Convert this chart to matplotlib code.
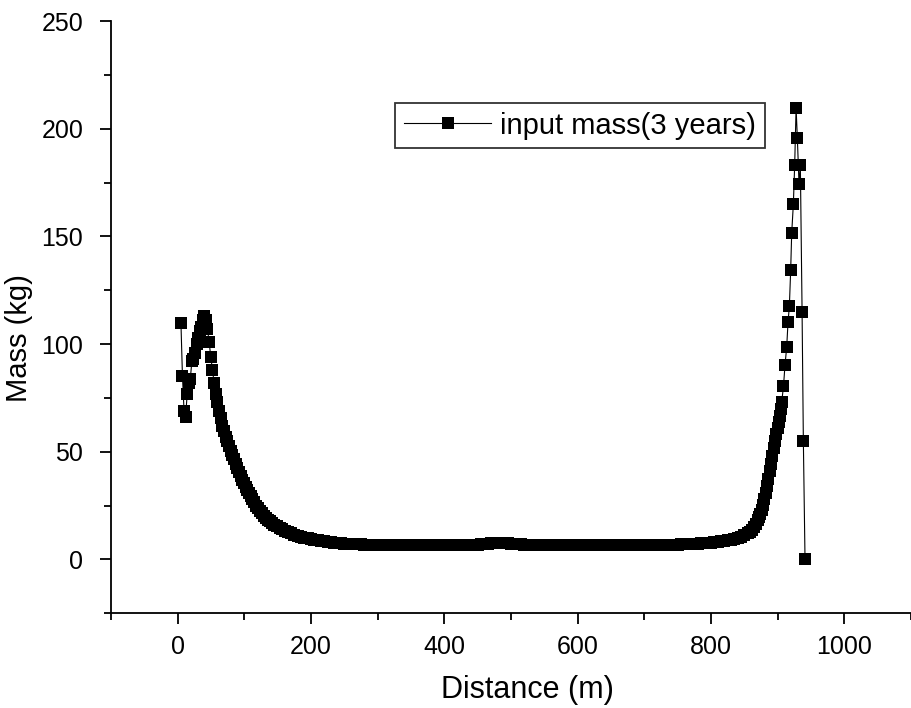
import matplotlib
matplotlib.use("Agg")
import matplotlib.pyplot as plt
from matplotlib.ticker import MultipleLocator

plt.rcParams["font.family"] = ["Liberation Sans", "DejaVu Sans"]

# distance (m) and mass (kg)
# first bump, near x = 0
dist_start = [4.7, 7.0, 9.4, 11.7, 14.1, 16.4, 18.8, 21.1, 23.5, 25.8, 28.2,
              30.5, 32.9, 35.2, 37.6, 39.9]
mass_start = [110.0, 85.0, 69.0, 66.0, 77.0, 82.0, 84.0, 92.0, 93.0, 96.0,
              100.0, 103.0, 106.0, 108.0, 111.0, 113.0]

# decay after the first bump
dist_decay = [42, 44.5, 47, 49.5, 52, 54.5, 57, 59.5, 62, 64.5, 67, 69.5, 72,
              74.5, 77, 79.5, 82, 84.5, 87, 89.5, 92, 94.5, 97, 99.5, 102,
              104.5, 107, 109.5, 112, 115, 118, 121, 124, 127, 130, 133, 136,
              139, 142, 145, 149, 153, 157, 161, 165, 170, 175, 180, 185]
mass_decay = [111, 107, 101, 94, 88, 82, 77, 73, 69, 65.5, 62, 59.5, 57, 55,
              52.5, 50.5, 48.5, 46.5, 44.5, 42.5, 40.5, 38.7, 37, 35.3, 33.7,
              32.1, 30.6, 29.2, 27.9, 26.4, 25, 23.7, 22.5, 21.3, 20.3, 19.3,
              18.4, 17.6, 16.8, 16.1, 15.3, 14.6, 13.9, 13.3, 12.7, 12.0,
              11.4, 10.9, 10.5]

# long flat stretch, 190 m to 800 m
dist_flat = [190, 195, 200, 205, 210, 215, 220, 225, 230, 235, 240, 245, 250,
             255, 260, 265, 270, 275, 280, 285, 290, 295, 300, 305, 310, 315,
             320, 325, 330, 335, 340, 345, 350, 355, 360, 365, 370, 375, 380,
             385, 390, 395, 400, 405, 410, 415, 420, 425, 430, 435, 440, 445,
             450, 455, 460, 465, 470, 475, 480, 485, 490, 495, 500, 505, 510,
             515, 520, 525, 530, 535, 540, 545, 550, 555, 560, 565, 570, 575,
             580, 585, 590, 595, 600, 605, 610, 615, 620, 625, 630, 635, 640,
             645, 650, 655, 660, 665, 670, 675, 680, 685, 690, 695, 700, 705,
             710, 715, 720, 725, 730, 735, 740, 745, 750, 755, 760, 765, 770,
             775, 780, 785, 790, 795, 800]
mass_flat = [10.1, 9.7, 9.4, 9.1, 8.9, 8.6, 8.4, 8.2, 8.0, 7.8, 7.6, 7.5, 7.3,
             7.2, 7.1, 7.0, 6.9, 6.9, 6.8, 6.8, 6.7, 6.7, 6.7, 6.6, 6.6, 6.6,
             6.6, 6.6, 6.6, 6.6, 6.6, 6.6, 6.6, 6.6, 6.6, 6.6, 6.6, 6.6, 6.6,
             6.6, 6.6, 6.6, 6.6, 6.6, 6.6, 6.6, 6.7, 6.7, 6.7, 6.7, 6.8, 6.8,
             6.8, 6.9, 7.0, 7.2, 7.4, 7.6, 7.8, 7.7, 7.5, 7.4, 7.3, 7.1, 7.0,
             6.9, 6.8, 6.8, 6.7, 6.7, 6.7, 6.7, 6.7, 6.7, 6.7, 6.7, 6.7, 6.7,
             6.7, 6.7, 6.7, 6.7, 6.7, 6.7, 6.7, 6.7, 6.7, 6.7, 6.7, 6.7, 6.7,
             6.7, 6.7, 6.7, 6.7, 6.7, 6.7, 6.7, 6.7, 6.7, 6.7, 6.7, 6.7, 6.8,
             6.8, 6.8, 6.8, 6.8, 6.8, 6.8, 6.8, 6.8, 6.8, 6.9, 7.0, 7.0, 7.1,
             7.2, 7.3, 7.4, 7.5, 7.6, 7.8]

# rise and final spike near the end
dist_end = [805, 810, 815, 820, 825, 830, 835, 840, 845, 850, 855, 858, 861,
            864, 867, 870, 872, 874, 876, 878, 880, 882, 884, 886, 888, 890,
            892, 894, 896, 898, 900, 901.5, 903, 904.5, 906, 908.7, 911.0,
            913.5, 915.5, 917.5, 919.5, 921.0, 923.5, 925.5, 927.6, 929.5,
            932.0, 934.0, 936.6, 938.5, 941.0]
mass_end = [8.0, 8.2, 8.4, 8.6, 8.9, 9.2, 9.6, 10.0, 10.6, 11.3, 12.2, 12.9,
            13.8, 15.0, 16.4, 18.2, 19.6, 21.2, 23.0, 25.3, 28.0, 31.0, 34.0,
            37.5, 41.0, 44.5, 48.0, 51.5, 55.0, 58.0, 61.0, 63.7, 66.5, 69.7,
            73.0, 80.4, 90.4, 98.5, 110.2, 117.5, 134.5, 151.5, 165.0, 183.3,
            209.8, 195.6, 174.4, 183.0, 114.7, 55.2, 0.0]

distance = dist_start + dist_decay + dist_flat + dist_end
mass = mass_start + mass_decay + mass_flat + mass_end

fig = plt.figure(figsize=(9.11, 7.08), dpi=100)
ax = fig.add_axes([0.122, 0.134, 0.878, 0.836])

ax.plot(distance, mass, color="black", linewidth=0.8, marker="s",
        markersize=8.3, markeredgewidth=0, label="input mass(3 years)")

ax.set_xlim(-100, 1100)
ax.set_ylim(-25, 250)
ax.xaxis.set_major_locator(MultipleLocator(200))
ax.xaxis.set_minor_locator(MultipleLocator(100))
ax.yaxis.set_major_locator(MultipleLocator(50))
ax.yaxis.set_minor_locator(MultipleLocator(25))

ax.spines["top"].set_visible(False)
ax.spines["right"].set_visible(False)
for side in ["left", "bottom"]:
    ax.spines[side].set_linewidth(1.3)

ax.tick_params(which="major", direction="out", length=8, width=1.3,
               labelsize=18)
ax.tick_params(axis="x", which="major", pad=8)
ax.tick_params(axis="y", which="major", pad=12)
ax.tick_params(which="minor", direction="out", length=5, width=1.3)

ax.set_xlabel("Distance (m)", fontsize=22)
ax.set_ylabel("Mass (kg)", fontsize=21)
ax.xaxis.set_label_coords(0.52, -0.105)
ax.yaxis.set_label_coords(-0.098, 0.465)

leg = ax.legend(loc="upper left", bbox_to_anchor=(0.355, 0.862),
                fontsize=21, frameon=True, fancybox=False, borderpad=0.3,
                handlelength=3.0, handletextpad=0.3, borderaxespad=0)
leg.get_frame().set_edgecolor("black")
leg.get_frame().set_linewidth(1.3)

fig.savefig("out.png", dpi=100)
